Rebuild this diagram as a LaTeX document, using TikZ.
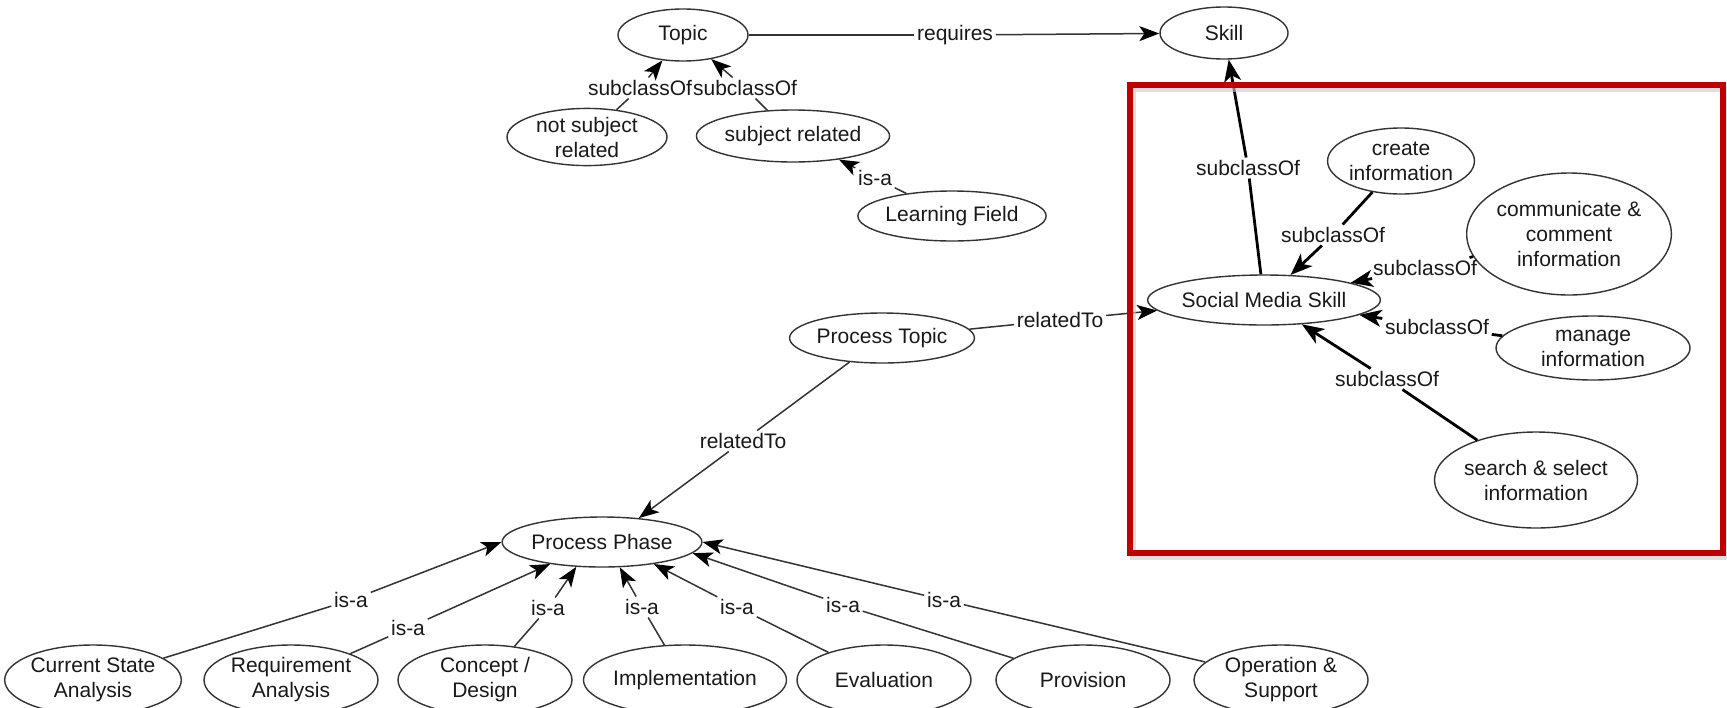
\documentclass[tikz,border=0pt]{standalone}
\usepackage{fontspec}
\setmainfont{Liberation Sans}
\usetikzlibrary{shapes.geometric,arrows.meta}
\definecolor{boxred}{RGB}{192,0,0}
\begin{document}
\begin{tikzpicture}[x=0.5pt,y=-0.5pt,
  font=\fontsize{10.5}{12.5}\selectfont,
  cls/.style n args={2}{ellipse, draw=black!80, line width=0.7pt, inner sep=0pt,
    minimum width=#1pt, minimum height=#2pt, align=center, text=black!90},
  lbl/.style={inner sep=1.2pt, text=black!90},
  ln/.style={draw=black!80, line width=0.75pt},
  lnarr/.style={ln, -{Stealth[length=10pt,width=7.5pt,inset=2.5pt,color=black]}},
  bln/.style={draw=black, line width=1.4pt},
  blnarr/.style={bln, -{Stealth[length=11pt,width=8.5pt,inset=3pt]}},
]
\fill[white] (0,0) rectangle (1727,707);
\useasboundingbox (0,0) rectangle (1727,707);
\clip (0,0) rectangle (1727,707);

% classes
\node[cls={65}{26}]  (topic)   at (683,35)   {Topic};
\node[cls={64}{26}]  (skill)   at (1224,33)  {Skill};
\node[cls={80}{25}]  (notsub)  at (587,137)  {not subject\\related};
\node[cls={77}{26}]  (subrel)  at (793,136)  {subject related};
\node[cls={79}{25}]  (lfield)  at (952,216)  {Learning Field};
\node[cls={88}{25}]  (ptopic)  at (882,338)  {Process Topic};
\node[cls={104}{25}] (sms)     at (1264,300) {Social Media Skill};
\node[cls={73}{33}]  (create)  at (1401,161) {create\\information};
\node[cls={97}{61}]  (comm)    at (1569,234) {communicate \&\\comment\\information};
\node[cls={97}{32}]  (manage)  at (1593,348) {manage\\information};
\node[cls={84}{48}]  (search)  at (1536,480) {search \& select\\information};
\node[cls={88}{25}]  (pphase)  at (602,542)  {Process Phase};

% process phases
\node[cls={87}{35}] (csa)     at (93,680)   {Current State\\Analysis};
\node[cls={87}{35}] (req)     at (291,680)  {Requirement\\Analysis};
\node[cls={87}{35}] (concept) at (485,680)  {Concept /\\Design};
\node[cls={87}{35}] (impl)    at (685,680)  {Implementation};
\node[cls={87}{35}] (eval)    at (884,680)  {Evaluation};
\node[cls={87}{35}] (prov)    at (1083,680) {Provision};
\node[cls={87}{35}] (oper)    at (1281,680) {Operation \&\\Support};

% relation labels
\node[lbl] (l-requires) at (955,35)   {requires};
\node[lbl] (l-sub1)     at (640,88)   {subclassOf};
\node[lbl] (l-sub2)     at (745,88)   {subclassOf};
\node[lbl] (l-isalf)    at (875,178)  {is-a};
\node[lbl] (l-relsms)   at (1060,320) {relatedTo};
\node[lbl] (l-relpp)    at (743,441)  {relatedTo};
\node[lbl] (l-skill)    at (1248,168) {subclassOf};
\node[lbl] (l-create)   at (1333,235) {subclassOf};
\node[lbl] (l-comm)     at (1425,268) {subclassOf};
\node[lbl] (l-manage)   at (1437,327) {subclassOf};
\node[lbl] (l-search)   at (1387,379) {subclassOf};
\node[lbl] (l-csa)      at (351,600)  {is-a};
\node[lbl] (l-req)      at (408,628)  {is-a};
\node[lbl] (l-concept)  at (548,608)  {is-a};
\node[lbl] (l-impl)     at (642,607)  {is-a};
\node[lbl] (l-eval)     at (737,607)  {is-a};
\node[lbl] (l-prov)     at (843,605)  {is-a};
\node[lbl] (l-oper)     at (944,600)  {is-a};

% topic hierarchy
\draw[ln] (topic) -- (l-requires);
\draw[lnarr] (l-requires) -- (skill);
\draw[ln] (notsub) -- (l-sub1);
\draw[lnarr] (l-sub1) -- (topic);
\draw[ln] (subrel) -- (l-sub2);
\draw[lnarr] (l-sub2) -- (topic);
\draw[ln] (lfield) -- (l-isalf);
\draw[lnarr] (l-isalf) -- (subrel);

% process topic
\draw[ln] (ptopic) -- (l-relsms);
\draw[lnarr] (l-relsms) -- (sms);
\draw[ln] (ptopic) -- (l-relpp);
\draw[lnarr] (l-relpp) -- (pphase.33);

% social media skills
\draw[bln] (sms) -- (l-skill);
\draw[blnarr] (l-skill) -- (skill);
\draw[bln] (create) -- (l-create);
\draw[blnarr] (l-create) -- (sms);
\draw[bln] (comm) -- (l-comm);
\draw[blnarr] (l-comm) -- (sms);
\draw[bln] (manage) -- (l-manage);
\draw[blnarr] (l-manage) -- (sms);
\draw[bln] (search) -- (l-search);
\draw[blnarr] (l-search) -- (sms);

% process phases
\draw[ln] (csa) -- (l-csa);
\draw[lnarr] (l-csa) -- (pphase.180);
\draw[ln] (req) -- (l-req);
\draw[lnarr] (l-req) -- (pphase.203);
\draw[ln] (concept) -- (l-concept);
\draw[lnarr] (l-concept) -- (pphase.224);
\draw[ln] (impl) -- (l-impl);
\draw[lnarr] (l-impl) -- (pphase.305);
\draw[ln] (eval) -- (l-eval);
\draw[lnarr] (l-eval) -- (pphase.337);
\draw[ln] (prov) -- (l-prov);
\draw[lnarr] (l-prov) -- (pphase.353);
\draw[ln] (oper) -- (l-oper);
\draw[lnarr] (l-oper) -- (pphase.0);

% highlight frame
\draw[black!20, line width=3pt, opacity=0.6] (1133,89) rectangle (1726,557);
\draw[boxred, line width=3.2pt] (1130,85) rectangle (1723,553);
\end{tikzpicture}
\end{document}
